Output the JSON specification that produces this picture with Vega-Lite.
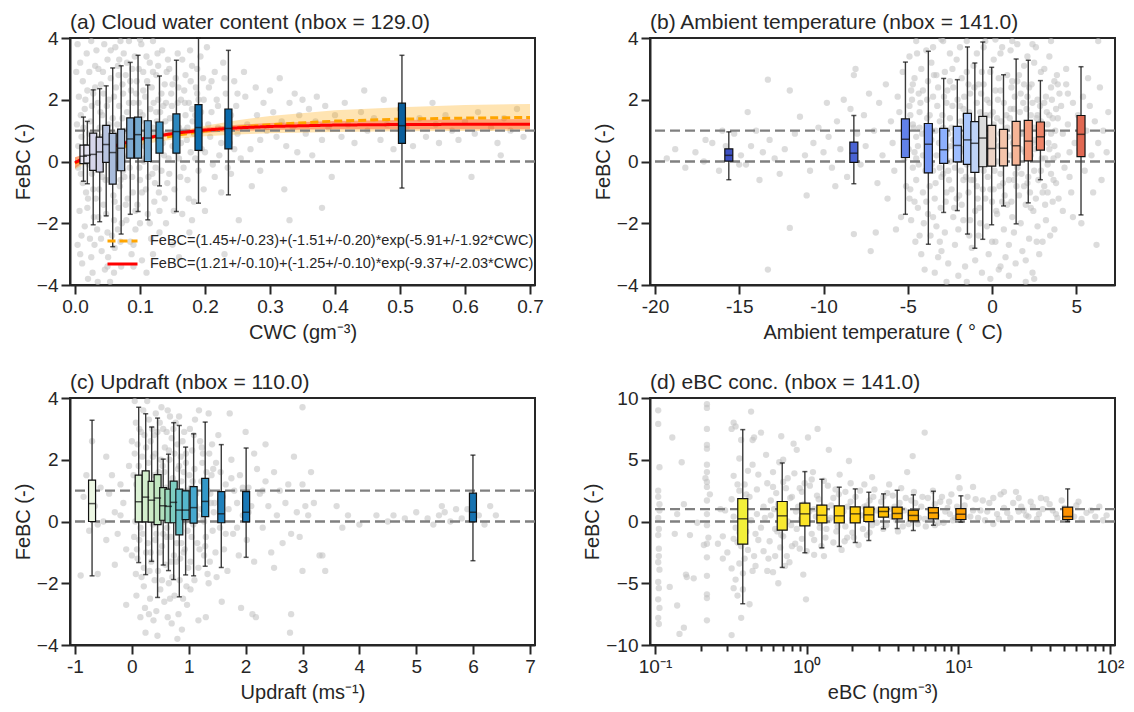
{
"$schema": "https://vega.github.io/schema/vega-lite/v6.json",
"padding": {"left": 12, "top": 10, "right": 5, "bottom": 5},
"bounds": "flush",
"columns": 2,
"spacing": {"row": 113, "column": 115},
"resolve": {"scale": {"fill": "independent", "color": "independent", "strokeDash": "independent"}},
"config": {
 "font": "Liberation Sans",
 "view": {"stroke": "#262626", "strokeWidth": 2},
 "axis": {"domain": true, "domainColor": "#262626", "domainWidth": 2, "grid": false, "tickSize": 9, "tickWidth": 2, "tickColor": "#262626", "labelFontSize": 19, "labelColor": "#262626", "labelPadding": 3, "titleFontSize": 20, "titleFontWeight": "normal", "titleColor": "#262626", "labelFlush": false, "labelOverlap": false, "zindex": 1},
 "axisX": {"titlePadding": 6},
 "axisY": {"titlePadding": 3},
 "title": {"fontSize": 21, "fontWeight": "normal", "anchor": "start", "frame": "group", "color": "#262626", "offset": -3.5}
},
"datasets": {
"ptsA": [
{"x":0.004,"y":3.8},{"x":0.008,"y":3.2},{"x":0.012,"y":2.6},{"x":0.006,"y":2.1},{"x":0.015,"y":1.7},{"x":0.003,"y":1.2},{"x":0.01,"y":0.8},{"x":0.018,"y":0.3},{"x":0.005,"y":-0.2},{"x":0.012,"y":-0.7},{"x":0.02,"y":-1.2},{"x":0.007,"y":-1.6},{"x":0.015,"y":-2.1},{"x":0.004,"y":-2.7},{"x":0.011,"y":-3.3},{"x":0.02,"y":-3.8},{"x":0.025,"y":3.9},{"x":0.022,"y":2.9},{"x":0.028,"y":2.2},{"x":0.024,"y":1.3},{"x":0.03,"y":0.6},{"x":0.026,"y":-0.4},{"x":0.029,"y":-1.8},{"x":0.023,"y":-2.5},{"x":0.027,"y":-3.6},
{"x":0.033,"y":3.6},{"x":0.036,"y":3.0},{"x":0.04,"y":2.5},{"x":0.035,"y":1.9},{"x":0.042,"y":1.5},{"x":0.038,"y":1.1},{"x":0.045,"y":0.4},{"x":0.04,"y":-0.3},{"x":0.037,"y":-0.9},{"x":0.044,"y":-1.4},{"x":0.034,"y":-2.2},{"x":0.041,"y":-2.9},{"x":0.046,"y":-3.5},{"x":0.05,"y":3.3},{"x":0.055,"y":2.7},{"x":0.052,"y":2.0},{"x":0.058,"y":1.4},{"x":0.05,"y":0.9},{"x":0.056,"y":0.1},{"x":0.053,"y":-0.6},{"x":0.059,"y":-1.1},{"x":0.048,"y":-1.7},{"x":0.057,"y":-2.4},{"x":0.051,"y":-3.1},{"x":0.054,"y":-3.9},
{"x":0.062,"y":3.7},{"x":0.066,"y":3.1},{"x":0.063,"y":2.4},{"x":0.068,"y":1.8},{"x":0.065,"y":1.2},{"x":0.07,"y":0.5},{"x":0.064,"y":-0.1},{"x":0.069,"y":-0.8},{"x":0.067,"y":-1.5},{"x":0.072,"y":-2.0},{"x":0.061,"y":-2.8},{"x":0.071,"y":-3.4},{"x":0.075,"y":3.5},{"x":0.078,"y":2.8},{"x":0.074,"y":2.2},{"x":0.08,"y":1.6},{"x":0.077,"y":1.0},{"x":0.082,"y":0.2},{"x":0.076,"y":-0.5},{"x":0.081,"y":-1.2},{"x":0.079,"y":-1.9},{"x":0.085,"y":-2.6},{"x":0.083,"y":3.9},{"x":0.088,"y":3.0},{"x":0.086,"y":2.3},{"x":0.09,"y":1.3},{"x":0.087,"y":0.7},{"x":0.084,"y":-0.2},{"x":0.089,"y":-1.0},{"x":0.087,"y":-3.0},
{"x":0.092,"y":3.4},{"x":0.095,"y":2.6},{"x":0.098,"y":1.9},{"x":0.094,"y":1.0},{"x":0.097,"y":0.3},{"x":0.1,"y":-0.6},{"x":0.096,"y":-1.4},{"x":0.093,"y":-2.2},{"x":0.102,"y":3.8},{"x":0.105,"y":2.9},{"x":0.108,"y":2.1},{"x":0.104,"y":1.5},{"x":0.11,"y":0.8},{"x":0.106,"y":0.0},{"x":0.109,"y":-0.9},{"x":0.112,"y":-1.7},{"x":0.103,"y":-3.2},{"x":0.115,"y":3.2},{"x":0.118,"y":2.4},{"x":0.116,"y":1.7},{"x":0.12,"y":1.1},{"x":0.114,"y":0.4},{"x":0.119,"y":-0.4},{"x":0.122,"y":-1.3},{"x":0.117,"y":-2.5},{"x":0.125,"y":2.8},{"x":0.128,"y":2.0},{"x":0.126,"y":1.3},{"x":0.13,"y":0.6},{"x":0.124,"y":-0.2},{"x":0.129,"y":-1.0},
{"x":0.134,"y":3.6},{"x":0.138,"y":2.5},{"x":0.136,"y":1.8},{"x":0.14,"y":0.9},{"x":0.137,"y":0.2},{"x":0.142,"y":-0.7},{"x":0.145,"y":3.0},{"x":0.148,"y":2.2},{"x":0.146,"y":1.4},{"x":0.15,"y":0.5},{"x":0.152,"y":-1.6},{"x":0.155,"y":2.7},{"x":0.158,"y":1.9},{"x":0.16,"y":1.1},{"x":0.157,"y":0.3},{"x":0.162,"y":-0.5},{"x":0.165,"y":3.3},{"x":0.168,"y":2.3},{"x":0.17,"y":1.5},{"x":0.172,"y":0.7},{"x":0.167,"y":-0.2},{"x":0.175,"y":-1.2},{"x":0.178,"y":2.6},{"x":0.18,"y":1.7},{"x":0.183,"y":0.9},{"x":0.185,"y":0.1},{"x":0.188,"y":3.0},{"x":0.19,"y":2.0},{"x":0.192,"y":1.2},{"x":0.195,"y":0.4},{"x":0.198,"y":-0.9},{"x":0.176,"y":-2.3},{"x":0.16,"y":-3.1},
{"x":0.203,"y":3.7},{"x":0.206,"y":2.4},{"x":0.21,"y":1.6},{"x":0.208,"y":0.8},{"x":0.212,"y":-0.1},{"x":0.215,"y":2.9},{"x":0.218,"y":2.0},{"x":0.22,"y":1.1},{"x":0.222,"y":0.2},{"x":0.225,"y":-1.0},{"x":0.228,"y":3.2},{"x":0.232,"y":2.2},{"x":0.235,"y":1.4},{"x":0.238,"y":0.6},{"x":0.24,"y":-0.4},{"x":0.245,"y":2.6},{"x":0.248,"y":1.8},{"x":0.25,"y":0.9},{"x":0.255,"y":0.1},{"x":0.26,"y":2.9},{"x":0.262,"y":2.1},{"x":0.265,"y":1.2},{"x":0.27,"y":0.4},{"x":0.272,"y":-0.8},{"x":0.278,"y":2.4},{"x":0.28,"y":1.5},{"x":0.285,"y":0.7},{"x":0.29,"y":1.9},{"x":0.295,"y":1.0},{"x":0.3,"y":2.3},{"x":0.252,"y":-1.9},{"x":0.23,"y":-3.0},{"x":0.285,"y":-0.3},
{"x":0.305,"y":1.6},{"x":0.31,"y":0.8},{"x":0.315,"y":2.7},{"x":0.318,"y":1.3},{"x":0.322,"y":-0.9},{"x":0.325,"y":0.5},{"x":0.33,"y":1.9},{"x":0.335,"y":1.1},{"x":0.338,"y":2.2},{"x":0.342,"y":0.3},{"x":0.345,"y":1.5},{"x":0.35,"y":2.0},{"x":0.355,"y":0.9},{"x":0.36,"y":1.7},{"x":0.365,"y":0.2},{"x":0.37,"y":1.3},{"x":0.372,"y":2.1},{"x":0.38,"y":0.7},{"x":0.385,"y":1.8},{"x":0.39,"y":1.1},{"x":0.395,"y":-0.5},{"x":0.4,"y":1.5},{"x":0.41,"y":0.8},{"x":0.415,"y":1.9},{"x":0.42,"y":1.2},{"x":0.43,"y":0.6},{"x":0.44,"y":1.6},{"x":0.445,"y":2.3},{"x":0.38,"y":-1.5},{"x":0.33,"y":-1.9},
{"x":0.45,"y":1.0},{"x":0.46,"y":1.4},{"x":0.47,"y":0.7},{"x":0.475,"y":2.0},{"x":0.48,"y":1.2},{"x":0.49,"y":0.4},{"x":0.5,"y":1.7},{"x":0.51,"y":1.1},{"x":0.52,"y":0.5},{"x":0.53,"y":1.4},{"x":0.54,"y":0.8},{"x":0.55,"y":1.9},{"x":0.555,"y":1.2},{"x":0.56,"y":0.6},{"x":0.57,"y":1.5},{"x":0.58,"y":1.0},{"x":0.59,"y":0.7},{"x":0.6,"y":1.3},{"x":0.61,"y":-0.5},{"x":0.615,"y":0.9},{"x":0.62,"y":1.6},{"x":0.64,"y":1.1},{"x":0.65,"y":0.6},{"x":0.66,"y":1.4},{"x":0.67,"y":1.0},{"x":0.68,"y":1.7},{"x":0.69,"y":0.8},{"x":0.655,"y":0.2},
{"x":0.002,"y":2.9},{"x":0.009,"y":1.5},{"x":0.014,"y":0.1},{"x":0.017,"y":-1.0},{"x":0.019,"y":2.3},{"x":0.021,"y":-0.1},{"x":0.031,"y":3.1},{"x":0.032,"y":-1.2},{"x":0.039,"y":0.8},{"x":0.043,"y":2.9},{"x":0.047,"y":-0.6},{"x":0.049,"y":1.8},{"x":0.06,"y":0.6},{"x":0.061,"y":-1.3},{"x":0.067,"y":2.8},{"x":0.073,"y":1.4},{"x":0.074,"y":-0.3},{"x":0.079,"y":0.6},{"x":0.083,"y":1.9},{"x":0.091,"y":0.6},{"x":0.094,"y":2.2},{"x":0.099,"y":-0.2},{"x":0.101,"y":1.3},{"x":0.107,"y":0.5},{"x":0.111,"y":2.6},{"x":0.113,"y":-0.5},{"x":0.121,"y":1.9},{"x":0.123,"y":0.9},{"x":0.127,"y":3.5},{"x":0.131,"y":1.6},{"x":0.133,"y":-0.3},{"x":0.139,"y":1.3},{"x":0.141,"y":2.9},{"x":0.144,"y":0.1},{"x":0.149,"y":1.8},{"x":0.153,"y":1.0},{"x":0.159,"y":2.4},{"x":0.163,"y":0.6},{"x":0.169,"y":1.9},{"x":0.173,"y":1.1},{"x":0.177,"y":3.6},{"x":0.181,"y":1.3},{"x":0.186,"y":2.4},{"x":0.189,"y":0.6},{"x":0.194,"y":1.6},{"x":0.197,"y":2.7},{"x":0.008,"y":-3.0},{"x":0.025,"y":-3.1},{"x":0.035,"y":-3.9},{"x":0.06,"y":-3.6},{"x":0.09,"y":-2.7},{"x":0.11,"y":-3.6},{"x":0.14,"y":-2.0},{"x":0.2,"y":-1.6},{"x":0.018,"y":3.5},{"x":0.045,"y":3.8},{"x":0.07,"y":3.9},{"x":0.1,"y":3.95},{"x":0.12,"y":3.9},
{"x":0.005,"y":0.5},{"x":0.009,"y":-0.4},{"x":0.013,"y":1.1},{"x":0.016,"y":2.0},{"x":0.019,"y":-1.5},{"x":0.022,"y":0.9},{"x":0.026,"y":1.8},{"x":0.028,"y":-0.9},{"x":0.031,"y":2.4},{"x":0.033,"y":0.2},{"x":0.036,"y":-1.8},{"x":0.039,"y":1.6},{"x":0.042,"y":-0.5},{"x":0.044,"y":2.2},{"x":0.047,"y":0.6},{"x":0.05,"y":-2.3},{"x":0.052,"y":1.2},{"x":0.055,"y":3.6},{"x":0.058,"y":-0.2},{"x":0.06,"y":2.1},{"x":0.063,"y":0.9},{"x":0.066,"y":-2.2},{"x":0.068,"y":3.3},{"x":0.07,"y":-0.6},{"x":0.073,"y":2.5},{"x":0.075,"y":0.1},{"x":0.078,"y":-1.4},{"x":0.08,"y":3.2},{"x":0.083,"y":0.8},{"x":0.085,"y":2.6},{"x":0.088,"y":-0.5},{"x":0.09,"y":1.9},{"x":0.093,"y":-1.6},{"x":0.095,"y":0.7},{"x":0.098,"y":3.0},{"x":0.1,"y":1.6},{"x":0.103,"y":-1.0},{"x":0.105,"y":2.3},{"x":0.108,"y":0.1},{"x":0.11,"y":3.4},{"x":0.113,"y":1.0},{"x":0.115,"y":-2.0},{"x":0.118,"y":0.9},{"x":0.12,"y":2.9},{"x":0.123,"y":-0.7},{"x":0.125,"y":1.6},{"x":0.128,"y":3.1},{"x":0.13,"y":-1.6},{"x":0.133,"y":2.2},{"x":0.135,"y":0.6},{"x":0.138,"y":-1.2},{"x":0.14,"y":1.9},{"x":0.143,"y":3.3},{"x":0.145,"y":-0.4},{"x":0.148,"y":0.9},{"x":0.15,"y":2.5},{"x":0.153,"y":-0.9},{"x":0.155,"y":1.4},{"x":0.158,"y":3.5},{"x":0.16,"y":0.1},{"x":0.163,"y":2.0},{"x":0.165,"y":-1.7},{"x":0.168,"y":1.0},{"x":0.17,"y":2.8},{"x":0.173,"y":-0.6},{"x":0.175,"y":1.9},{"x":0.178,"y":0.3},{"x":0.18,"y":3.1},{"x":0.183,"y":-1.3},{"x":0.185,"y":1.5},{"x":0.188,"y":2.2},{"x":0.19,"y":-0.3},{"x":0.193,"y":3.4},{"x":0.195,"y":1.0},{"x":0.198,"y":2.0},{"x":0.2,"y":0.3},{"x":0.205,"y":1.2},{"x":0.21,"y":2.6},{"x":0.215,"y":-0.5},{"x":0.22,"y":1.8},{"x":0.225,"y":0.6},{"x":0.23,"y":2.7},{"x":0.235,"y":-0.2},{"x":0.24,"y":1.5},{"x":0.245,"y":0.4},{"x":0.25,"y":2.2},{"x":0.01,"y":-2.4},{"x":0.03,"y":-2.7},{"x":0.05,"y":-3.4},{"x":0.07,"y":-2.6},{"x":0.09,"y":-3.4},{"x":0.12,"y":-3.0},{"x":0.15,"y":-2.7},{"x":0.18,"y":-1.9},{"x":0.06,"y":-1.9},{"x":0.04,"y":-2.5},{"x":0.1,"y":-2.0},{"x":0.13,"y":-2.3}
],
"ptsB": [
{"x":-19.3,"y":0.1},{"x":-18.8,"y":0.4},{"x":-18.2,"y":-0.2},{"x":-17.6,"y":0.3},{"x":-17.1,"y":0.0},{"x":-16.6,"y":0.6},{"x":-16.2,"y":-0.3},{"x":-15.8,"y":0.5},{"x":-15.3,"y":0.9},{"x":-14.9,"y":0.2},{"x":-14.6,"y":-0.1},{"x":-14.3,"y":0.5},{"x":-14.0,"y":1.0},{"x":-13.6,"y":0.3},{"x":-13.3,"y":2.65},{"x":-13.2,"y":0.7},{"x":-12.9,"y":0.1},{"x":-12.6,"y":-0.4},{"x":-12.3,"y":0.4},{"x":-12.0,"y":2.3},{"x":-12.0,"y":-2.15},{"x":-11.7,"y":0.9},{"x":-11.4,"y":1.45},{"x":-11.1,"y":0.2},{"x":-10.8,"y":-0.3},{"x":-10.6,"y":0.6},{"x":-10.3,"y":1.1},{"x":-10.0,"y":0.3},{"x":-13.3,"y":-3.5},{"x":-14.5,"y":1.6},{"x":-13.8,"y":-0.6},{"x":-11.0,"y":-1.1},{"x":-15.0,"y":-0.1},{"x":-16.0,"y":1.0},{"x":-17.0,"y":0.7},
{"x":-9.7,"y":0.8},{"x":-9.5,"y":-0.2},{"x":-9.2,"y":1.3},{"x":-9.0,"y":0.4},{"x":-8.8,"y":2.0},{"x":-8.6,"y":-0.5},{"x":-8.4,"y":1.7},{"x":-8.2,"y":2.8},{"x":-8.1,"y":3.0},{"x":-8.0,"y":0.9},{"x":-7.8,"y":-0.1},{"x":-7.6,"y":1.5},{"x":-7.5,"y":0.5},{"x":-7.3,"y":2.2},{"x":-7.2,"y":-2.9},{"x":-7.0,"y":1.0},{"x":-6.8,"y":-0.7},{"x":-6.7,"y":1.9},{"x":-6.5,"y":0.2},{"x":-6.3,"y":2.5},{"x":-6.2,"y":-1.2},{"x":-6.0,"y":1.3},{"x":-5.9,"y":0.6},{"x":-5.8,"y":-0.3},{"x":-5.6,"y":2.1},{"x":-5.5,"y":1.6},{"x":-5.4,"y":-1.8},{"x":-5.3,"y":2.9},{"x":-5.2,"y":0.1},{"x":-5.1,"y":-0.8},{"x":-8.2,"y":-2.35},{"x":-9.8,"y":1.9},{"x":-6.9,"y":-2.3},{"x":-5.7,"y":-2.2},{"x":-9.3,"y":-0.8},
{"x":-4.9,"y":3.4},{"x":-4.8,"y":2.3},{"x":-4.7,"y":1.2},{"x":-4.6,"y":0.3},{"x":-4.5,"y":-0.6},{"x":-4.4,"y":-1.5},{"x":-4.3,"y":-2.4},{"x":-4.2,"y":3.0},{"x":-4.9,"y":1.8},{"x":-4.7,"y":-0.2},{"x":-4.5,"y":0.8},{"x":-4.3,"y":1.6},{"x":-4.1,"y":-1.0},{"x":-4.8,"y":-1.9},{"x":-4.6,"y":2.7},{"x":-4.2,"y":-3.0},{"x":-4.4,"y":0.5},
{"x":-3.9,"y":3.6},{"x":-3.8,"y":2.6},{"x":-3.7,"y":1.5},{"x":-3.6,"y":0.7},{"x":-3.5,"y":-0.3},{"x":-3.4,"y":-1.2},{"x":-3.3,"y":-2.1},{"x":-3.2,"y":-3.1},{"x":-3.9,"y":1.0},{"x":-3.7,"y":-0.8},{"x":-3.5,"y":2.1},{"x":-3.3,"y":0.2},{"x":-3.1,"y":1.3},{"x":-3.8,"y":-1.7},{"x":-3.6,"y":3.2},{"x":-3.4,"y":-3.6},{"x":-3.2,"y":2.4},{"x":-3.0,"y":-0.5},
{"x":-2.9,"y":3.9},{"x":-2.8,"y":2.9},{"x":-2.7,"y":1.9},{"x":-2.6,"y":0.9},{"x":-2.5,"y":0.0},{"x":-2.4,"y":-0.9},{"x":-2.3,"y":-1.8},{"x":-2.2,"y":-2.7},{"x":-2.9,"y":-0.4},{"x":-2.7,"y":0.4},{"x":-2.5,"y":1.4},{"x":-2.3,"y":2.4},{"x":-2.1,"y":3.3},{"x":-2.8,"y":-2.3},{"x":-2.6,"y":-3.3},{"x":-2.4,"y":1.1},{"x":-2.2,"y":-0.2},{"x":-2.0,"y":-3.7},
{"x":-1.9,"y":3.7},{"x":-1.8,"y":2.7},{"x":-1.7,"y":1.7},{"x":-1.6,"y":0.8},{"x":-1.5,"y":-0.1},{"x":-1.4,"y":-1.0},{"x":-1.3,"y":-1.9},{"x":-1.2,"y":-2.8},{"x":-1.9,"y":0.3},{"x":-1.7,"y":-0.6},{"x":-1.5,"y":1.2},{"x":-1.3,"y":2.2},{"x":-1.1,"y":3.1},{"x":-1.8,"y":-1.4},{"x":-1.6,"y":-3.4},{"x":-1.4,"y":2.5},{"x":-1.2,"y":0.5},{"x":-1.0,"y":-1.6},
{"x":-0.9,"y":3.5},{"x":-0.8,"y":2.5},{"x":-0.7,"y":1.6},{"x":-0.6,"y":0.6},{"x":-0.5,"y":-0.3},{"x":-0.4,"y":-1.2},{"x":-0.3,"y":-2.1},{"x":-0.2,"y":-3.0},{"x":-0.9,"y":-0.8},{"x":-0.7,"y":0.1},{"x":-0.5,"y":1.1},{"x":-0.3,"y":2.0},{"x":-0.1,"y":2.9},{"x":-0.8,"y":-2.4},{"x":-0.6,"y":-3.6},{"x":-0.4,"y":3.9},{"x":-0.2,"y":0.8},{"x":0.0,"y":-1.3},
{"x":0.1,"y":3.3},{"x":0.2,"y":2.3},{"x":0.3,"y":1.4},{"x":0.4,"y":0.5},{"x":0.5,"y":-0.4},{"x":0.6,"y":-1.3},{"x":0.7,"y":-2.2},{"x":0.8,"y":-3.1},{"x":0.1,"y":-0.9},{"x":0.3,"y":0.0},{"x":0.5,"y":0.9},{"x":0.7,"y":1.9},{"x":0.9,"y":2.8},{"x":0.2,"y":-2.6},{"x":0.4,"y":-3.5},{"x":0.6,"y":3.7},{"x":0.8,"y":0.3},{"x":1.0,"y":-0.6},
{"x":1.1,"y":3.6},{"x":1.2,"y":2.6},{"x":1.3,"y":1.7},{"x":1.4,"y":0.7},{"x":1.5,"y":-0.2},{"x":1.6,"y":-1.1},{"x":1.7,"y":-2.0},{"x":1.8,"y":-2.9},{"x":1.1,"y":0.2},{"x":1.3,"y":-0.6},{"x":1.5,"y":1.2},{"x":1.7,"y":2.2},{"x":1.9,"y":3.1},{"x":1.2,"y":-1.8},{"x":1.4,"y":-3.3},{"x":1.6,"y":2.8},{"x":1.8,"y":0.9},{"x":2.0,"y":-1.4},
{"x":2.1,"y":3.4},{"x":2.2,"y":2.4},{"x":2.3,"y":1.5},{"x":2.4,"y":0.6},{"x":2.5,"y":-0.3},{"x":2.6,"y":-1.2},{"x":2.7,"y":-2.1},{"x":2.8,"y":-3.0},{"x":2.1,"y":-0.7},{"x":2.3,"y":0.2},{"x":2.5,"y":1.1},{"x":2.7,"y":2.0},{"x":2.9,"y":2.9},{"x":2.2,"y":-2.5},{"x":2.4,"y":-3.6},{"x":2.6,"y":3.7},{"x":2.8,"y":0.7},{"x":3.0,"y":-1.0},
{"x":3.1,"y":3.0},{"x":3.2,"y":2.1},{"x":3.3,"y":1.2},{"x":3.4,"y":0.4},{"x":3.5,"y":-0.4},{"x":3.6,"y":-1.3},{"x":3.7,"y":-2.2},{"x":3.8,"y":1.7},{"x":3.1,"y":-0.8},{"x":3.3,"y":-0.1},{"x":3.5,"y":0.9},{"x":3.7,"y":2.6},{"x":3.9,"y":0.2},{"x":3.2,"y":-1.9},{"x":3.4,"y":3.4},{"x":3.6,"y":1.4},{"x":3.8,"y":-0.7},{"x":4.0,"y":2.2},
{"x":4.1,"y":1.8},{"x":4.2,"y":0.9},{"x":4.3,"y":-0.2},{"x":4.4,"y":2.5},{"x":4.5,"y":1.2},{"x":4.6,"y":0.3},{"x":4.7,"y":-1.0},{"x":4.8,"y":1.9},{"x":4.9,"y":0.6},{"x":4.2,"y":-1.6},{"x":4.4,"y":3.0},{"x":4.6,"y":-0.5},{"x":4.8,"y":-1.8},{"x":4.5,"y":2.2},
{"x":5.1,"y":1.5},{"x":5.2,"y":0.4},{"x":5.4,"y":2.1},{"x":5.5,"y":-0.3},{"x":5.6,"y":1.0},{"x":5.8,"y":1.8},{"x":5.9,"y":0.2},{"x":6.0,"y":-1.0},{"x":6.1,"y":1.3},{"x":6.3,"y":0.6},{"x":6.4,"y":2.4},{"x":6.6,"y":1.0},{"x":6.8,"y":0.3},{"x":6.9,"y":1.6},{"x":5.3,"y":-2.0},{"x":6.2,"y":-2.7},{"x":5.7,"y":2.7},{"x":6.5,"y":-0.6},{"x":6.3,"y":3.9},
{"x":-4.95,"y":0.4},{"x":-4.85,"y":-0.9},{"x":-4.75,"y":2.0},{"x":-4.65,"y":1.1},{"x":-4.55,"y":-2.6},{"x":-4.45,"y":3.5},{"x":-4.35,"y":-0.1},{"x":-4.25,"y":1.9},{"x":-4.15,"y":0.9},{"x":-4.05,"y":-2.0},
{"x":-3.95,"y":-0.3},{"x":-3.85,"y":1.4},{"x":-3.75,"y":0.3},{"x":-3.65,"y":-2.4},{"x":-3.55,"y":1.0},{"x":-3.45,"y":2.8},{"x":-3.35,"y":-0.7},{"x":-3.25,"y":1.8},{"x":-3.15,"y":0.6},{"x":-3.05,"y":-1.5},
{"x":-2.95,"y":1.5},{"x":-2.85,"y":0.6},{"x":-2.75,"y":-1.3},{"x":-2.65,"y":2.3},{"x":-2.55,"y":-0.6},{"x":-2.45,"y":0.5},{"x":-2.35,"y":1.8},{"x":-2.25,"y":-1.5},{"x":-2.15,"y":0.9},{"x":-2.05,"y":2.0},
{"x":-1.95,"y":-1.1},{"x":-1.85,"y":1.3},{"x":-1.75,"y":0.4},{"x":-1.65,"y":2.1},{"x":-1.55,"y":-0.5},{"x":-1.45,"y":0.3},{"x":-1.35,"y":1.6},{"x":-1.25,"y":-0.6},{"x":-1.15,"y":1.0},{"x":-1.05,"y":2.4},
{"x":-0.95,"y":1.2},{"x":-0.85,"y":0.3},{"x":-0.75,"y":-1.5},{"x":-0.65,"y":2.2},{"x":-0.55,"y":-0.9},{"x":-0.45,"y":0.4},{"x":-0.35,"y":1.5},{"x":-0.25,"y":-0.5},{"x":-0.15,"y":1.9},{"x":-0.05,"y":0.4},
{"x":0.05,"y":1.6},{"x":0.15,"y":0.7},{"x":0.25,"y":-1.6},{"x":0.35,"y":2.0},{"x":0.45,"y":-0.8},{"x":0.55,"y":1.3},{"x":0.65,"y":0.2},{"x":0.75,"y":-1.1},{"x":0.85,"y":1.5},{"x":0.95,"y":0.8},
{"x":1.05,"y":1.4},{"x":1.15,"y":-1.3},{"x":1.25,"y":0.6},{"x":1.35,"y":2.1},{"x":1.45,"y":-0.8},{"x":1.55,"y":0.4},{"x":1.65,"y":1.6},{"x":1.75,"y":-0.4},{"x":1.85,"y":1.9},{"x":1.95,"y":0.3},
{"x":2.05,"y":1.7},{"x":2.15,"y":0.8},{"x":2.25,"y":-1.0},{"x":2.35,"y":2.5},{"x":2.45,"y":-1.6},{"x":2.55,"y":0.4},{"x":2.65,"y":1.4},{"x":2.75,"y":-0.6},{"x":2.85,"y":1.8},{"x":2.95,"y":0.1},
{"x":3.05,"y":0.9},{"x":3.15,"y":-1.4},{"x":3.25,"y":1.6},{"x":3.35,"y":0.6},{"x":3.45,"y":-2.4},{"x":3.55,"y":2.0},{"x":3.65,"y":0.1},{"x":3.75,"y":1.0},{"x":3.85,"y":2.8},{"x":3.95,"y":-1.2},
{"x":-3.0,"y":3.95},{"x":-1.5,"y":3.9},{"x":0.2,"y":3.95},{"x":1.2,"y":3.9},{"x":2.4,"y":3.8},{"x":-2.7,"y":-3.9},{"x":-0.1,"y":-3.8},{"x":1.0,"y":-3.7},{"x":2.0,"y":-3.9},
{"x":-4.9,"y":-1.2},{"x":-4.7,"y":2.5},{"x":-4.5,"y":0.1},{"x":-4.3,"y":1.1},{"x":-4.1,"y":2.3},{"x":-3.9,"y":-1.3},{"x":-3.7,"y":0.9},{"x":-3.5,"y":-1.8},{"x":-3.3,"y":2.8},{"x":-3.1,"y":-0.2},{"x":-2.9,"y":1.1},{"x":-2.7,"y":-1.0},{"x":-2.5,"y":2.6},{"x":-2.3,"y":0.7},{"x":-2.1,"y":-1.2},{"x":-1.9,"y":1.8},{"x":-1.7,"y":-1.9},{"x":-1.5,"y":2.9},{"x":-1.3,"y":0.6},{"x":-1.1,"y":-0.6},{"x":-0.9,"y":1.9},{"x":-0.7,"y":-2.0},{"x":-0.5,"y":2.5},{"x":-0.3,"y":0.4},{"x":-0.1,"y":-0.9},{"x":0.1,"y":1.2},{"x":0.3,"y":-1.7},{"x":0.5,"y":2.3},{"x":0.7,"y":0.5},{"x":0.9,"y":-1.4},{"x":1.1,"y":1.7},{"x":1.3,"y":-2.3},{"x":1.5,"y":2.6},{"x":1.7,"y":0.4},{"x":1.9,"y":-0.8},{"x":2.1,"y":2.1},{"x":2.3,"y":-1.5},{"x":2.5,"y":0.7},{"x":2.7,"y":1.5},{"x":2.9,"y":-0.3},{"x":3.1,"y":1.9},{"x":3.3,"y":-1.0},{"x":3.5,"y":2.4},{"x":3.7,"y":0.5},{"x":3.9,"y":1.4},
{"x":-4.85,"y":1.5},{"x":-4.6,"y":-1.3},{"x":-4.35,"y":2.2},{"x":-4.1,"y":0.2},{"x":-3.85,"y":2.0},{"x":-3.6,"y":-0.1},{"x":-3.35,"y":1.0},{"x":-3.1,"y":-2.6},{"x":-2.85,"y":2.1},{"x":-2.6,"y":-0.3},{"x":-2.35,"y":3.0},{"x":-2.1,"y":0.3},{"x":-1.85,"y":-0.3},{"x":-1.6,"y":1.5},{"x":-1.35,"y":-2.4},{"x":-1.1,"y":0.8},{"x":-0.85,"y":-1.2},{"x":-0.6,"y":2.9},{"x":-0.35,"y":0.0},{"x":-0.1,"y":1.5},{"x":0.15,"y":-0.3},{"x":0.4,"y":2.7},{"x":0.65,"y":-0.7},{"x":0.9,"y":1.1},{"x":1.15,"y":2.4},{"x":1.4,"y":-0.4},{"x":1.65,"y":0.9},{"x":1.9,"y":2.5},{"x":2.15,"y":-0.5},{"x":2.4,"y":1.9},{"x":2.65,"y":-2.6},{"x":2.9,"y":1.3},{"x":3.15,"y":0.1},{"x":3.4,"y":1.5},{"x":3.65,"y":-0.6},{"x":3.9,"y":2.5},
{"x":-4.0,"y":-3.5},{"x":-3.0,"y":-2.9},{"x":-2.0,"y":-2.2},{"x":-1.0,"y":-3.2},{"x":0.0,"y":-2.6},{"x":1.0,"y":-2.7},{"x":2.0,"y":-3.2},{"x":3.0,"y":-2.6},{"x":-1.5,"y":-3.9},{"x":0.5,"y":-3.4},{"x":2.5,"y":-3.8},{"x":-4.5,"y":3.9},{"x":-3.5,"y":3.7},{"x":-2.5,"y":3.5},{"x":-0.5,"y":3.7},{"x":0.5,"y":3.5},{"x":1.5,"y":3.8},{"x":2.5,"y":3.2},{"x":3.5,"y":3.9}
],
"ptsC": [
{"x":-0.9,"y":-1.75},{"x":-0.85,"y":0.8},{"x":-0.8,"y":1.5},{"x":-0.75,"y":-0.3},{"x":-0.7,"y":2.6},{"x":-0.65,"y":0.5},{"x":-0.6,"y":-0.1},{"x":-0.55,"y":1.1},{"x":-0.5,"y":0.0},{"x":-0.45,"y":-0.6},{"x":-0.4,"y":0.9},{"x":-0.35,"y":1.5},{"x":-0.3,"y":0.3},{"x":-0.25,"y":-0.4},{"x":-0.2,"y":1.2},{"x":-0.15,"y":0.6},{"x":-0.1,"y":-0.9},{"x":-0.05,"y":1.8},{"x":-0.1,"y":-2.7},{"x":-0.3,"y":-1.4},{"x":-0.6,"y":-1.7},{"x":-0.45,"y":2.1},{"x":-0.2,"y":0.2},{"x":0.0,"y":2.6},{"x":0.0,"y":-1.1},
{"x":0.05,"y":3.9},{"x":0.07,"y":3.2},{"x":0.1,"y":2.5},{"x":0.12,"y":1.8},{"x":0.08,"y":1.2},{"x":0.15,"y":0.6},{"x":0.06,"y":0.0},{"x":0.13,"y":-0.6},{"x":0.1,"y":-1.2},{"x":0.17,"y":-1.8},{"x":0.08,"y":-2.4},{"x":0.15,"y":-3.1},{"x":0.2,"y":3.6},{"x":0.22,"y":2.8},{"x":0.18,"y":2.1},{"x":0.24,"y":1.4},{"x":0.2,"y":0.8},{"x":0.23,"y":0.2},{"x":0.19,"y":-0.4},{"x":0.25,"y":-1.0},{"x":0.21,"y":-1.5},{"x":0.24,"y":-3.6},{"x":0.03,"y":1.5},{"x":0.04,"y":-0.5},{"x":0.16,"y":2.9},{"x":0.11,"y":0.3},
{"x":0.27,"y":3.9},{"x":0.3,"y":3.3},{"x":0.33,"y":2.6},{"x":0.29,"y":1.9},{"x":0.35,"y":1.2},{"x":0.31,"y":0.5},{"x":0.37,"y":-0.1},{"x":0.28,"y":-0.7},{"x":0.34,"y":-1.3},{"x":0.4,"y":-1.9},{"x":0.32,"y":-2.5},{"x":0.38,"y":-3.2},{"x":0.42,"y":3.5},{"x":0.45,"y":2.9},{"x":0.41,"y":2.2},{"x":0.47,"y":1.6},{"x":0.44,"y":0.9},{"x":0.48,"y":0.2},{"x":0.43,"y":-0.4},{"x":0.49,"y":-1.0},{"x":0.46,"y":-1.6},{"x":0.5,"y":-2.2},{"x":0.36,"y":3.0},{"x":0.39,"y":1.5},{"x":0.26,"y":0.9},{"x":0.45,"y":-3.7},{"x":0.3,"y":-3.0},
{"x":0.52,"y":3.7},{"x":0.55,"y":3.0},{"x":0.58,"y":2.4},{"x":0.54,"y":1.8},{"x":0.6,"y":1.1},{"x":0.56,"y":0.4},{"x":0.62,"y":-0.2},{"x":0.53,"y":-0.8},{"x":0.59,"y":-1.4},{"x":0.65,"y":-2.0},{"x":0.57,"y":-2.6},{"x":0.63,"y":-3.1},{"x":0.67,"y":3.4},{"x":0.7,"y":2.7},{"x":0.66,"y":2.0},{"x":0.72,"y":1.4},{"x":0.69,"y":0.8},{"x":0.73,"y":0.1},{"x":0.68,"y":-0.5},{"x":0.74,"y":-1.1},{"x":0.71,"y":-1.8},{"x":0.64,"y":0.6},{"x":0.61,"y":2.9},{"x":0.75,"y":-2.4},{"x":0.7,"y":-3.3},
{"x":0.77,"y":3.2},{"x":0.8,"y":2.5},{"x":0.83,"y":1.8},{"x":0.79,"y":1.2},{"x":0.85,"y":0.5},{"x":0.81,"y":-0.1},{"x":0.87,"y":-0.7},{"x":0.78,"y":-1.3},{"x":0.84,"y":-1.9},{"x":0.9,"y":-2.5},{"x":0.82,"y":-3.0},{"x":0.88,"y":-3.5},{"x":0.92,"y":2.9},{"x":0.95,"y":2.2},{"x":0.91,"y":1.6},{"x":0.97,"y":1.0},{"x":0.94,"y":0.3},{"x":0.98,"y":-0.3},{"x":0.93,"y":-0.9},{"x":0.99,"y":-1.5},{"x":0.96,"y":-2.1},{"x":0.86,"y":2.1},{"x":0.89,"y":0.9},{"x":0.8,"y":-3.8},
{"x":1.02,"y":3.0},{"x":1.06,"y":2.3},{"x":1.1,"y":1.7},{"x":1.04,"y":1.1},{"x":1.12,"y":0.5},{"x":1.08,"y":-0.1},{"x":1.15,"y":-0.7},{"x":1.03,"y":-1.3},{"x":1.1,"y":-1.9},{"x":1.17,"y":-3.2},{"x":1.2,"y":2.6},{"x":1.24,"y":1.9},{"x":1.22,"y":1.3},{"x":1.28,"y":0.7},{"x":1.25,"y":0.1},{"x":1.3,"y":-0.5},{"x":1.27,"y":-1.1},{"x":1.33,"y":-1.7},{"x":1.36,"y":2.2},{"x":1.4,"y":1.5},{"x":1.38,"y":0.9},{"x":1.44,"y":0.3},{"x":1.42,"y":-0.3},{"x":1.47,"y":-1.0},{"x":1.35,"y":3.5},{"x":1.18,"y":3.6},{"x":1.48,"y":1.9},{"x":1.3,"y":-3.1},
{"x":1.52,"y":2.8},{"x":1.56,"y":1.6},{"x":1.6,"y":0.8},{"x":1.55,"y":-0.2},{"x":1.62,"y":-0.9},{"x":1.58,"y":-2.6},{"x":1.65,"y":1.2},{"x":1.7,"y":0.4},{"x":1.68,"y":-1.6},{"x":1.75,"y":2.0},{"x":1.8,"y":1.0},{"x":1.78,"y":-0.4},{"x":1.85,"y":0.6},{"x":1.9,"y":1.5},{"x":1.88,"y":-1.1},{"x":1.95,"y":0.2},{"x":2.0,"y":2.9},{"x":2.05,"y":1.1},{"x":2.02,"y":-0.6},{"x":2.1,"y":0.5},{"x":2.15,"y":-1.3},{"x":2.2,"y":1.7},{"x":1.92,"y":-2.8},{"x":2.18,"y":-3.1},{"x":1.72,"y":3.5},{"x":2.12,"y":-3.0},
{"x":2.25,"y":0.9},{"x":2.3,"y":-0.2},{"x":2.35,"y":1.3},{"x":2.4,"y":0.5},{"x":2.45,"y":-1.0},{"x":2.5,"y":1.6},{"x":2.55,"y":0.2},{"x":2.6,"y":1.0},{"x":2.65,"y":-0.7},{"x":2.7,"y":0.6},{"x":2.75,"y":1.2},{"x":2.8,"y":-0.4},{"x":2.85,"y":2.1},{"x":2.9,"y":0.3},{"x":2.95,"y":-0.5},{"x":3.0,"y":1.2},{"x":3.05,"y":0.5},{"x":2.35,"y":2.5},{"x":2.5,"y":-1.5},{"x":2.8,"y":-3.0},{"x":2.78,"y":-3.6},{"x":3.0,"y":3.7},{"x":3.0,"y":-1.6},{"x":3.1,"y":0.2},{"x":3.3,"y":-1.1},{"x":3.35,"y":-1.1},{"x":3.4,"y":-1.6},{"x":3.2,"y":0.6},{"x":3.15,"y":1.6},
{"x":3.6,"y":0.5},{"x":3.8,"y":0.2},{"x":4.0,"y":-0.1},{"x":4.3,"y":0.2},{"x":4.5,"y":0.0},{"x":4.8,"y":0.1},{"x":5.0,"y":0.3},{"x":5.2,"y":0.1},{"x":5.3,"y":-0.1},{"x":5.4,"y":0.2},{"x":5.5,"y":0.3},{"x":5.6,"y":0.0},{"x":5.7,"y":0.4},{"x":5.8,"y":0.1},{"x":5.9,"y":0.4},{"x":6.1,"y":0.2},{"x":6.2,"y":-0.1},{"x":6.3,"y":0.5},{"x":6.4,"y":0.2},{"x":3.7,"y":-0.2},{"x":4.6,"y":0.2},{"x":5.45,"y":0.5},
{"x":0.05,"y":2.2},{"x":0.09,"y":-0.9},{"x":0.13,"y":3.0},{"x":0.17,"y":0.4},{"x":0.21,"y":-2.1},{"x":0.25,"y":2.4},{"x":0.29,"y":0.2},{"x":0.33,"y":-1.0},{"x":0.37,"y":2.1},{"x":0.41,"y":-0.6},{"x":0.45,"y":1.3},{"x":0.49,"y":3.2},{"x":0.53,"y":-1.9},{"x":0.57,"y":1.6},{"x":0.61,"y":-0.5},{"x":0.65,"y":2.3},{"x":0.69,"y":-1.3},{"x":0.73,"y":3.0},{"x":0.77,"y":0.3},{"x":0.81,"y":1.7},{"x":0.85,"y":-1.2},{"x":0.89,"y":2.6},{"x":0.93,"y":0.0},{"x":0.97,"y":-2.7},{"x":1.01,"y":1.5},{"x":1.05,"y":-0.5},{"x":1.09,"y":2.8},{"x":1.13,"y":0.9},{"x":1.17,"y":-1.5},{"x":1.21,"y":0.4},{"x":1.25,"y":2.2},{"x":1.29,"y":-0.8},{"x":1.33,"y":1.0},{"x":1.37,"y":-1.3},{"x":1.41,"y":2.5},{"x":1.45,"y":0.6},{"x":0.07,"y":-1.7},{"x":0.11,"y":1.0},{"x":0.15,"y":-0.2},{"x":0.19,"y":1.5},{"x":0.23,"y":-2.8},{"x":0.27,"y":1.2},{"x":0.31,"y":-1.6},{"x":0.35,"y":0.3},{"x":0.39,"y":2.8},{"x":0.43,"y":-2.9},{"x":0.47,"y":0.5},{"x":0.51,"y":2.0},{"x":0.55,"y":-0.4},{"x":0.59,"y":0.9},{"x":0.63,"y":3.6},{"x":0.67,"y":-2.5},{"x":0.71,"y":1.0},{"x":0.75,"y":2.2},{"x":0.79,"y":-0.7},{"x":0.83,"y":3.4},{"x":0.87,"y":1.3},{"x":0.91,"y":-1.0},{"x":0.95,"y":1.9},{"x":0.99,"y":0.6},{"x":1.03,"y":-2.2},{"x":1.07,"y":1.3},{"x":1.11,"y":3.3},{"x":1.15,"y":0.2},{"x":1.19,"y":-0.9},{"x":1.23,"y":2.4},{"x":1.27,"y":0.0},{"x":1.31,"y":1.6},{"x":1.35,"y":-2.0},{"x":1.39,"y":0.6},{"x":1.43,"y":1.7},{"x":1.49,"y":-1.8},{"x":1.55,"y":0.7},{"x":1.65,"y":-0.4},{"x":1.75,"y":1.4},{"x":1.85,"y":-0.2},{"x":1.95,"y":1.1},{"x":2.05,"y":0.3},{"x":2.15,"y":2.2},{"x":2.3,"y":1.0}
],
"ptsD": [
{"x":0.105,"y":9.0},{"x":0.105,"y":7.9},{"x":0.107,"y":4.4},{"x":0.105,"y":2.5},{"x":0.107,"y":1.4},{"x":0.105,"y":0.3},{"x":0.106,"y":-0.6},{"x":0.105,"y":-1.1},{"x":0.106,"y":-2.2},{"x":0.105,"y":-3.3},{"x":0.107,"y":-3.9},{"x":0.105,"y":-4.9},{"x":0.106,"y":-5.4},{"x":0.105,"y":-6.3},{"x":0.107,"y":-7.0},{"x":0.105,"y":-7.8},{"x":0.106,"y":-8.3},{"x":0.105,"y":2.0},{"x":0.106,"y":-2.8},{"x":0.107,"y":0.9},
{"x":0.125,"y":-5.3},{"x":0.13,"y":6.8},{"x":0.14,"y":-6.8},{"x":0.145,"y":-9.1},{"x":0.15,"y":4.8},{"x":0.155,"y":-8.6},{"x":0.16,"y":-4.3},{"x":0.162,"y":-4.5},{"x":0.17,"y":-1.1},{"x":0.155,"y":1.4},{"x":0.135,"y":-1.0},{"x":0.18,"y":-4.6},{"x":0.19,"y":-0.1},{"x":0.14,"y":0.6},
{"x":0.22,"y":9.5},{"x":0.22,"y":9.2},{"x":0.22,"y":7.5},{"x":0.22,"y":6.2},{"x":0.22,"y":5.9},{"x":0.22,"y":4.6},{"x":0.22,"y":4.0},{"x":0.22,"y":3.2},{"x":0.22,"y":2.8},{"x":0.22,"y":1.7},{"x":0.22,"y":0.6},{"x":0.22,"y":-0.3},{"x":0.22,"y":-1.8},{"x":0.22,"y":-2.9},{"x":0.22,"y":-4.4},{"x":0.22,"y":-5.9},{"x":0.22,"y":-6.2},{"x":0.22,"y":-8.0},{"x":0.215,"y":3.5},{"x":0.225,"y":-1.3},{"x":0.21,"y":-1.9},{"x":0.23,"y":2.2},
{"x":0.26,"y":-1.8},{"x":0.27,"y":1.0},{"x":0.28,"y":-3.0},{"x":0.3,"y":-2.5},{"x":0.29,"y":0.9},{"x":0.28,"y":-1.2},
{"x":0.32,"y":7.5},{"x":0.33,"y":8.0},{"x":0.34,"y":7.7},{"x":0.33,"y":3.7},{"x":0.32,"y":1.8},{"x":0.34,"y":-0.5},{"x":0.33,"y":-1.4},{"x":0.32,"y":-3.8},{"x":0.34,"y":-4.7},{"x":0.33,"y":-5.4},{"x":0.32,"y":-9.2},{"x":0.35,"y":-6.0},{"x":0.36,"y":5.1},{"x":0.37,"y":6.6},{"x":0.36,"y":2.5},{"x":0.37,"y":-2.0},{"x":0.36,"y":-3.4},{"x":0.38,"y":-4.2},{"x":0.38,"y":1.0},{"x":0.39,"y":3.0},{"x":0.4,"y":-0.8},{"x":0.41,"y":4.1},{"x":0.42,"y":-6.7},{"x":0.43,"y":8.9},{"x":0.44,"y":6.6},{"x":0.45,"y":6.8},{"x":0.45,"y":-2.8},{"x":0.46,"y":-3.6},{"x":0.47,"y":2.6},{"x":0.48,"y":-1.5},{"x":0.47,"y":0.6},{"x":0.35,"y":-1.7},{"x":0.42,"y":2.0},{"x":0.44,"y":-4.0},{"x":0.33,"y":0.4},{"x":0.39,"y":-3.0},{"x":0.37,"y":-7.8},
{"x":0.5,"y":7.2},{"x":0.52,"y":-2.4},{"x":0.54,"y":5.4},{"x":0.55,"y":3.1},{"x":0.56,"y":-3.0},{"x":0.58,"y":1.7},{"x":0.6,"y":-4.1},{"x":0.62,"y":-0.6},{"x":0.63,"y":2.3},{"x":0.65,"y":-5.0},{"x":0.66,"y":4.8},{"x":0.68,"y":6.9},{"x":0.7,"y":-1.2},{"x":0.72,"y":0.9},{"x":0.74,"y":-2.8},{"x":0.75,"y":3.5},{"x":0.77,"y":-3.3},{"x":0.8,"y":2.0},{"x":0.82,"y":6.3},{"x":0.84,"y":-1.8},{"x":0.86,"y":5.8},{"x":0.88,"y":1.2},{"x":0.9,"y":-2.2},{"x":0.92,"y":0.2},{"x":0.95,"y":-4.3},{"x":0.97,"y":3.1},{"x":0.99,"y":-6.3},{"x":0.53,"y":0.3},{"x":0.57,"y":-1.6},{"x":0.61,"y":1.0},{"x":0.67,"y":-2.1},{"x":0.73,"y":2.7},{"x":0.79,"y":-0.3},{"x":0.85,"y":0.8},{"x":0.93,"y":2.4},{"x":0.6,"y":4.0},{"x":0.7,"y":5.0},{"x":0.64,"y":-0.8},
{"x":1.02,"y":6.8},{"x":1.05,"y":2.9},{"x":1.08,"y":-1.0},{"x":1.1,"y":4.0},{"x":1.12,"y":-2.7},{"x":1.15,"y":0.4},{"x":1.18,"y":7.5},{"x":1.2,"y":1.8},{"x":1.25,"y":-2.0},{"x":1.3,"y":3.3},{"x":1.35,"y":-0.6},{"x":1.4,"y":5.8},{"x":1.45,"y":1.3},{"x":1.5,"y":-1.7},{"x":1.55,"y":2.6},{"x":1.6,"y":-0.4},{"x":1.65,"y":3.8},{"x":1.7,"y":-2.3},{"x":1.75,"y":0.8},{"x":1.8,"y":2.4},{"x":1.85,"y":-1.3},{"x":1.9,"y":4.9},{"x":1.95,"y":1.6},{"x":2.0,"y":-0.9},{"x":2.1,"y":2.0},{"x":2.2,"y":-1.9},{"x":2.3,"y":0.5},{"x":2.4,"y":3.0},{"x":2.5,"y":-1.1},{"x":2.6,"y":1.7},{"x":2.7,"y":-0.3},{"x":2.8,"y":2.6},{"x":2.9,"y":0.9},{"x":1.3,"y":-2.8},{"x":1.12,"y":1.0},{"x":1.22,"y":-0.5},{"x":1.6,"y":1.1},{"x":2.0,"y":0.2},{"x":2.4,"y":1.2},{"x":1.4,"y":0.1},{"x":1.8,"y":-0.4},{"x":2.7,"y":3.6},
{"x":3.1,"y":1.6},{"x":3.2,"y":-0.6},{"x":3.4,"y":2.3},{"x":3.6,"y":0.4},{"x":3.8,"y":1.2},{"x":4.0,"y":-0.8},{"x":4.2,"y":2.7},{"x":4.4,"y":0.9},{"x":4.7,"y":-0.2},{"x":5.0,"y":5.3},{"x":5.2,"y":1.5},{"x":5.5,"y":0.3},{"x":5.8,"y":2.0},{"x":6.1,"y":-0.4},{"x":6.5,"y":1.0},{"x":6.8,"y":2.5},{"x":7.2,"y":0.5},{"x":7.6,"y":1.6},{"x":8.0,"y":-0.1},{"x":8.5,"y":1.1},{"x":9.0,"y":2.2},{"x":9.5,"y":0.3},{"x":4.6,"y":4.0},{"x":6.0,"y":7.2},{"x":3.5,"y":3.0},{"x":4.9,"y":1.7},{"x":7.0,"y":-0.3},{"x":8.8,"y":0.6},{"x":10.0,"y":3.6},{"x":10.2,"y":2.7},
{"x":11,"y":1.3},{"x":12,"y":0.4},{"x":13,"y":1.8},{"x":14,"y":0.9},{"x":15,"y":0.1},{"x":16,"y":1.5},{"x":18,"y":0.6},{"x":19,"y":2.2},{"x":20,"y":1.1},{"x":22,"y":0.3},{"x":24,"y":2.4},{"x":26,"y":1.2},{"x":28,"y":0.5},{"x":30,"y":1.6},{"x":33,"y":0.2},{"x":36,"y":1.0},{"x":40,"y":1.4},{"x":45,"y":0.3},{"x":48,"y":1.7},{"x":55,"y":0.8},{"x":60,"y":1.3},{"x":65,"y":0.2},{"x":70,"y":0.7},{"x":80,"y":0.4},{"x":90,"y":0.1},{"x":12.5,"y":2.8},{"x":17,"y":-0.2},{"x":25,"y":0.8},{"x":35,"y":1.9},{"x":42,"y":0.9},
{"x":0.35,"y":3.0},{"x":0.36,"y":-0.9},{"x":0.38,"y":-5.5},{"x":0.4,"y":2.2},{"x":0.41,"y":-2.3},{"x":0.43,"y":0.1},{"x":0.44,"y":4.6},{"x":0.46,"y":-1.0},{"x":0.48,"y":3.8},{"x":0.5,"y":-0.5},{"x":0.52,"y":1.2},{"x":0.55,"y":-4.0},{"x":0.58,"y":0.5},{"x":0.6,"y":2.8},{"x":0.62,"y":-2.8},{"x":0.65,"y":1.4},{"x":0.68,"y":-1.1},{"x":0.7,"y":3.2},{"x":0.72,"y":-3.6},{"x":0.75,"y":0.0},{"x":0.78,"y":1.9},{"x":0.8,"y":-2.0},{"x":0.83,"y":3.9},{"x":0.86,"y":-0.6},{"x":0.9,"y":2.7},{"x":0.93,"y":-1.4},{"x":0.96,"y":1.4},{"x":1.0,"y":-2.4},{"x":1.04,"y":0.8},{"x":1.08,"y":3.4},{"x":1.12,"y":-1.5},{"x":1.17,"y":2.1},{"x":1.22,"y":-0.1},{"x":1.27,"y":1.2},{"x":1.33,"y":-1.3},{"x":1.38,"y":2.9},{"x":1.44,"y":0.3},{"x":1.5,"y":1.9},{"x":1.57,"y":-0.8},{"x":1.63,"y":2.2},{"x":1.7,"y":0.3},{"x":1.78,"y":-1.6},{"x":1.86,"y":1.2},{"x":1.95,"y":3.1},{"x":2.05,"y":-1.3},{"x":2.15,"y":0.9},{"x":2.25,"y":2.5},{"x":2.35,"y":-0.6},{"x":2.5,"y":1.3},{"x":2.6,"y":-0.9},{"x":2.75,"y":2.0},{"x":2.9,"y":-0.1},{"x":3.05,"y":0.8},{"x":3.2,"y":2.0},{"x":3.35,"y":-0.3},{"x":3.5,"y":1.0},{"x":3.7,"y":2.1},{"x":3.9,"y":0.1},{"x":4.1,"y":1.5},{"x":4.3,"y":-0.4},{"x":4.5,"y":1.9},{"x":4.8,"y":0.6},{"x":5.1,"y":2.4},{"x":5.4,"y":-0.2},{"x":5.7,"y":1.2},{"x":6.0,"y":0.2},{"x":6.3,"y":1.9},{"x":6.6,"y":0.6},{"x":7.0,"y":1.4},{"x":7.4,"y":-0.1},{"x":7.8,"y":2.0},{"x":8.2,"y":0.8},{"x":8.7,"y":1.6},{"x":9.2,"y":0.1},{"x":9.8,"y":1.2},{"x":10.5,"y":0.6},{"x":11.5,"y":2.0},{"x":12.5,"y":0.9},{"x":13.5,"y":0.3},{"x":14.5,"y":1.7},{"x":15.5,"y":0.8},{"x":17,"y":1.9},{"x":18.5,"y":0.2},{"x":20,"y":2.4},{"x":21,"y":0.7},{"x":23,"y":1.5},{"x":25,"y":1.9},{"x":27,"y":0.9},{"x":29,"y":0.4},{"x":31,"y":1.2},{"x":34,"y":0.6},{"x":38,"y":1.8},{"x":44,"y":0.6},{"x":50,"y":1.1},{"x":58,"y":0.4},{"x":62,"y":1.6},{"x":75,"y":0.9},{"x":85,"y":1.2},{"x":95,"y":0.5}
],
"boxA": [
{"i":1,"x":0.013,"lo":-0.64,"q1":-0.07,"med":0.17,"q3":0.53,"hi":1.44},
{"i":2,"x":0.019,"lo":-0.72,"q1":-0.05,"med":0.2,"q3":0.53,"hi":1.30},
{"i":3,"x":0.028,"lo":-2.05,"q1":-0.29,"med":0.23,"q3":0.92,"hi":2.32},
{"i":4,"x":0.038,"lo":-1.95,"q1":-0.34,"med":0.31,"q3":0.79,"hi":2.36},
{"i":5,"x":0.048,"lo":-1.76,"q1":-0.03,"med":0.55,"q3":1.17,"hi":2.45},
{"i":6,"x":0.058,"lo":-2.76,"q1":-0.73,"med":0.29,"q3":0.91,"hi":3.03},
{"i":7,"x":0.071,"lo":-2.35,"q1":-0.30,"med":0.43,"q3":1.05,"hi":3.1},
{"i":8,"x":0.085,"lo":-1.71,"q1":0.11,"med":0.73,"q3":1.41,"hi":3.21},
{"i":9,"x":0.097,"lo":-1.62,"q1":0.11,"med":0.87,"q3":1.44,"hi":3.44},
{"i":10,"x":0.112,"lo":-1.89,"q1":0.0,"med":0.76,"q3":1.32,"hi":2.48},
{"i":11,"x":0.130,"lo":-0.79,"q1":0.27,"med":0.76,"q3":1.28,"hi":2.77},
{"i":12,"x":0.156,"lo":-1.62,"q1":0.27,"med":0.97,"q3":1.54,"hi":3.28},
{"i":13,"x":0.19,"lo":-1.35,"q1":0.36,"med":1.10,"q3":1.84,"hi":4.0},
{"i":14,"x":0.236,"lo":-1.08,"q1":0.41,"med":1.07,"q3":1.70,"hi":3.6},
{"i":15,"x":0.503,"lo":-0.86,"q1":0.59,"med":1.16,"q3":1.89,"hi":3.44}
],
"boxB": [
{"i":1,"x":-15.62,"lo":-0.59,"q1":0.01,"med":0.2,"q3":0.41,"hi":0.96},
{"i":2,"x":-8.2,"lo":-0.72,"q1":-0.03,"med":0.27,"q3":0.63,"hi":1.49},
{"i":3,"x":-5.14,"lo":-1.71,"q1":0.13,"med":0.72,"q3":1.38,"hi":3.22},
{"i":4,"x":-3.78,"lo":-2.68,"q1":-0.37,"med":0.56,"q3":1.23,"hi":3.57},
{"i":5,"x":-2.87,"lo":-1.65,"q1":-0.06,"med":0.38,"q3":1.07,"hi":2.69},
{"i":6,"x":-2.06,"lo":-1.59,"q1":-0.01,"med":0.52,"q3":1.14,"hi":2.65},
{"i":7,"x":-1.46,"lo":-2.35,"q1":-0.09,"med":0.70,"q3":1.56,"hi":3.71},
{"i":8,"x":-1.02,"lo":-2.81,"q1":-0.35,"med":0.59,"q3":1.29,"hi":3.19},
{"i":9,"x":-0.55,"lo":-2.52,"q1":-0.17,"med":0.76,"q3":1.46,"hi":3.87},
{"i":10,"x":-0.02,"lo":-2.05,"q1":-0.15,"med":0.42,"q3":1.17,"hi":3.05},
{"i":11,"x":0.68,"lo":-1.44,"q1":-0.14,"med":0.43,"q3":1.04,"hi":2.81},
{"i":12,"x":1.43,"lo":-2.02,"q1":-0.12,"med":0.51,"q3":1.30,"hi":3.32},
{"i":13,"x":2.15,"lo":-1.34,"q1":0.02,"med":0.66,"q3":1.33,"hi":3.28},
{"i":14,"x":2.87,"lo":-0.59,"q1":0.37,"med":0.80,"q3":1.28,"hi":2.62},
{"i":15,"x":5.28,"lo":-1.73,"q1":0.16,"med":0.88,"q3":1.49,"hi":3.07}
],
"boxC": [
{"i":1,"x":-0.70,"lo":-1.76,"q1":0.0,"med":0.58,"q3":1.34,"hi":3.28},
{"i":2,"x":0.12,"lo":-1.33,"q1":-0.01,"med":0.64,"q3":1.50,"hi":3.70},
{"i":3,"x":0.243,"lo":-1.72,"q1":-0.01,"med":0.79,"q3":1.64,"hi":3.49},
{"i":4,"x":0.348,"lo":-1.29,"q1":-0.02,"med":0.69,"q3":1.30,"hi":3.06},
{"i":5,"x":0.452,"lo":-2.46,"q1":-0.10,"med":0.76,"q3":1.52,"hi":3.35},
{"i":6,"x":0.551,"lo":-1.41,"q1":0.04,"med":0.51,"q3":1.10,"hi":2.02},
{"i":7,"x":0.643,"lo":-1.59,"q1":-0.04,"med":0.49,"q3":1.05,"hi":2.18},
{"i":8,"x":0.735,"lo":-1.88,"q1":-0.04,"med":0.62,"q3":1.31,"hi":3.20},
{"i":9,"x":0.834,"lo":-2.44,"q1":-0.43,"med":0.37,"q3":1.05,"hi":3.11},
{"i":10,"x":0.945,"lo":-1.73,"q1":0.06,"med":0.37,"q3":0.99,"hi":2.41},
{"i":11,"x":1.086,"lo":-1.76,"q1":-0.05,"med":0.45,"q3":1.13,"hi":2.84},
{"i":12,"x":1.289,"lo":-1.45,"q1":0.16,"med":0.65,"q3":1.40,"hi":3.22},
{"i":13,"x":1.572,"lo":-1.49,"q1":-0.04,"med":0.25,"q3":0.97,"hi":2.49},
{"i":14,"x":2.009,"lo":-1.16,"q1":-0.01,"med":0.30,"q3":0.97,"hi":2.38},
{"i":15,"x":5.997,"lo":-1.27,"q1":-0.01,"med":0.30,"q3":0.92,"hi":2.15}
],
"boxD": [
{"i":1,"x":0.379,"lo":-6.66,"q1":-1.83,"med":0.22,"q3":1.86,"hi":7.44},
{"i":2,"x":0.690,"lo":-3.72,"q1":-0.70,"med":0.46,"q3":1.62,"hi":4.74},
{"i":3,"x":0.973,"lo":-2.53,"q1":-0.35,"med":0.62,"q3":1.48,"hi":4.04},
{"i":4,"x":1.26,"lo":-2.13,"q1":-0.11,"med":0.51,"q3":1.32,"hi":3.42},
{"i":5,"x":1.64,"lo":-2.02,"q1":-0.11,"med":0.46,"q3":1.27,"hi":2.78},
{"i":6,"x":2.09,"lo":-1.70,"q1":-0.11,"med":0.62,"q3":1.19,"hi":2.64},
{"i":7,"x":2.57,"lo":-1.54,"q1":0.0,"med":0.54,"q3":1.16,"hi":2.37},
{"i":8,"x":3.21,"lo":-0.59,"q1":0.35,"med":0.81,"q3":1.16,"hi":2.24},
{"i":9,"x":3.95,"lo":-0.57,"q1":0.22,"med":0.65,"q3":1.16,"hi":2.53},
{"i":10,"x":5.05,"lo":-0.73,"q1":0.05,"med":0.49,"q3":0.92,"hi":2.16},
{"i":11,"x":6.85,"lo":-0.30,"q1":0.22,"med":0.70,"q3":1.13,"hi":2.45},
{"i":12,"x":10.4,"lo":-0.05,"q1":0.16,"med":0.59,"q3":1.05,"hi":2.08},
{"i":13,"x":52.6,"lo":0.0,"q1":0.16,"med":0.40,"q3":1.16,"hi":2.64}
],
"fitA": [
{"x":0,"o":-0.06,"olo":-0.26,"ohi":0.14,"r":-0.04,"rlo":-0.22,"rhi":0.14},
{"x":0.01,"o":0.027,"olo":-0.133,"ohi":0.187,"r":0.072,"rlo":-0.068,"rhi":0.212},
{"x":0.02,"o":0.108,"olo":-0.012,"ohi":0.228,"r":0.174,"rlo":0.074,"rhi":0.274},
{"x":0.04,"o":0.258,"olo":0.168,"ohi":0.348,"r":0.351,"rlo":0.281,"rhi":0.421},
{"x":0.06,"o":0.391,"olo":0.311,"ohi":0.471,"r":0.497,"rlo":0.437,"rhi":0.557},
{"x":0.08,"o":0.509,"olo":0.429,"ohi":0.589,"r":0.62,"rlo":0.56,"rhi":0.68},
{"x":0.1,"o":0.614,"olo":0.534,"ohi":0.694,"r":0.72,"rlo":0.66,"rhi":0.78},
{"x":0.13,"o":0.75,"olo":0.65,"ohi":0.85,"r":0.84,"rlo":0.775,"rhi":0.905},
{"x":0.16,"o":0.864,"olo":0.744,"ohi":0.984,"r":0.931,"rlo":0.861,"rhi":1.001},
{"x":0.2,"o":0.987,"olo":0.817,"ohi":1.157,"r":1.018,"rlo":0.933,"rhi":1.103},
{"x":0.25,"o":1.106,"olo":0.876,"ohi":1.336,"r":1.09,"rlo":0.99,"rhi":1.19},
{"x":0.3,"o":1.193,"olo":0.913,"ohi":1.473,"r":1.135,"rlo":1.02,"rhi":1.25},
{"x":0.4,"o":1.308,"olo":0.958,"ohi":1.658,"r":1.18,"rlo":1.045,"rhi":1.315},
{"x":0.5,"o":1.371,"olo":0.981,"ohi":1.761,"r":1.198,"rlo":1.048,"rhi":1.348},
{"x":0.6,"o":1.406,"olo":0.986,"ohi":1.826,"r":1.205,"rlo":1.045,"rhi":1.365},
{"x":0.7,"o":1.426,"olo":0.986,"ohi":1.866,"r":1.209,"rlo":1.044,"rhi":1.374}
],
"refs": [{"v":0},{"v":1}]
},
"concat": [
{
 "width": 465, "height": 247,
 "title": {"text": "(a) Cloud water content (nbox = 129.0)"},
 "layer": [
  {"data": {"name": "ptsA"}, "mark": {"type": "circle", "size": 40, "color": "#c0c0c0", "opacity": 0.55, "clip": true},
   "encoding": {
    "x": {"field": "x", "type": "quantitative", "title": "CWC (gm⁻³)", "scale": {"domain": [0, 0.7], "nice": false, "zero": false}, "axis": {"values": [0,0.1,0.2,0.3,0.4,0.5,0.6,0.7], "format": ".1f"}},
    "y": {"field": "y", "type": "quantitative", "title": "FeBC (-)", "scale": {"domain": [-4, 4], "nice": false}, "axis": {"values": [-4,-2,0,2,4]}}}},
  {"data": {"name": "fitA"}, "mark": {"type": "area", "color": "#ffa500", "opacity": 0.3, "clip": true},
   "encoding": {"x": {"field": "x", "type": "quantitative", "title": "CWC (gm⁻³)"}, "y": {"field": "olo", "type": "quantitative", "title": "FeBC (-)"}, "y2": {"field": "ohi"}}},
  {"data": {"name": "fitA"}, "mark": {"type": "area", "color": "#ff2a00", "opacity": 0.35, "clip": true},
   "encoding": {"x": {"field": "x", "type": "quantitative", "title": "CWC (gm⁻³)"}, "y": {"field": "rlo", "type": "quantitative", "title": "FeBC (-)"}, "y2": {"field": "rhi"}}},
  {"data": {"name": "refs"}, "mark": {"type": "rule", "color": "#808080", "strokeWidth": 2.3, "strokeDash": [10, 5]},
   "encoding": {"y": {"field": "v", "type": "quantitative", "title": "FeBC (-)"}}},
  {"data": {"name": "fitA"}, "transform": [{"fold": ["o", "r"], "as": ["fit", "v"]}],
   "mark": {"type": "line", "strokeWidth": 3, "clip": true},
   "encoding": {"x": {"field": "x", "type": "quantitative", "title": "CWC (gm⁻³)"}, "y": {"field": "v", "type": "quantitative", "title": "FeBC (-)"},
    "color": {"field": "fit", "type": "nominal", "scale": {"domain": ["o", "r"], "range": ["#ffa500", "#ff0000"]},
     "legend": {"title": null, "orient": "none", "legendX": 36, "legendY": 195, "labelExpr": "datum.value == 'o' ? 'FeBC=(1.45+/-0.23)+(-1.51+/-0.20)*exp(-5.91+/-1.92*CWC)' : 'FeBC=(1.21+/-0.10)+(-1.25+/-0.10)*exp(-9.37+/-2.03*CWC)'", "labelFontSize": 14.5, "labelColor": "#262626", "labelLimit": 600, "symbolType": "stroke", "symbolSize": 900, "symbolStrokeWidth": 3, "clipHeight": 16, "rowPadding": 7, "labelOffset": 11, "padding": 0}},
    "strokeDash": {"field": "fit", "type": "nominal", "scale": {"domain": ["o", "r"], "range": [[8, 4], [1, 0]]},
     "legend": {"title": null, "orient": "none", "legendX": 36, "legendY": 195, "labelExpr": "datum.value == 'o' ? 'FeBC=(1.45+/-0.23)+(-1.51+/-0.20)*exp(-5.91+/-1.92*CWC)' : 'FeBC=(1.21+/-0.10)+(-1.25+/-0.10)*exp(-9.37+/-2.03*CWC)'", "labelFontSize": 14.5, "labelColor": "#262626", "labelLimit": 600, "symbolType": "stroke", "symbolSize": 900, "symbolStrokeWidth": 3, "clipHeight": 16, "rowPadding": 7, "labelOffset": 11, "padding": 0}}}},
  {"data": {"name": "boxA"}, "mark": {"type": "rule", "color": "#3a3a3a", "strokeWidth": 1.4},
   "encoding": {"x": {"field": "x", "type": "quantitative", "title": "CWC (gm⁻³)"}, "y": {"field": "lo", "type": "quantitative", "title": "FeBC (-)"}, "y2": {"field": "hi"}}},
  {"data": {"name": "boxA"}, "mark": {"type": "tick", "orient": "horizontal", "color": "#111111", "size": 5, "thickness": 1.5},
   "encoding": {"x": {"field": "x", "type": "quantitative", "title": "CWC (gm⁻³)"}, "y": {"field": "lo", "type": "quantitative", "title": "FeBC (-)"}}},
  {"data": {"name": "boxA"}, "mark": {"type": "tick", "orient": "horizontal", "color": "#111111", "size": 5, "thickness": 1.5},
   "encoding": {"x": {"field": "x", "type": "quantitative", "title": "CWC (gm⁻³)"}, "y": {"field": "hi", "type": "quantitative", "title": "FeBC (-)"}}},
  {"data": {"name": "boxA"}, "mark": {"type": "bar", "size": 7, "stroke": "#111111", "strokeWidth": 1.2},
   "encoding": {"x": {"field": "x", "type": "quantitative", "title": "CWC (gm⁻³)"}, "y": {"field": "q1", "type": "quantitative", "title": "FeBC (-)"}, "y2": {"field": "q3"},
    "fill": {"field": "i", "type": "ordinal", "legend": null, "scale": {"range": ["#ece9f4","#e3e2f0","#d6d6ea","#d0d1e6","#b7c3df","#a9bcdb","#a6bddb","#7eabd3","#74a9cf","#6aa3cc","#3d93c3","#2c87be","#0d6eaf","#0a6aab","#0b5f9c"]}}}},
  {"data": {"name": "boxA"}, "mark": {"type": "tick", "orient": "horizontal", "color": "#111111", "size": 7, "thickness": 1.5},
   "encoding": {"x": {"field": "x", "type": "quantitative", "title": "CWC (gm⁻³)"}, "y": {"field": "med", "type": "quantitative", "title": "FeBC (-)"}}}
 ]
},
{
 "width": 465, "height": 247,
 "title": {"text": "(b) Ambient temperature (nbox = 141.0)"},
 "layer": [
  {"data": {"name": "ptsB"}, "mark": {"type": "circle", "size": 40, "color": "#c0c0c0", "opacity": 0.55, "clip": true},
   "encoding": {
    "x": {"field": "x", "type": "quantitative", "title": "Ambient temperature ( ° C)", "scale": {"domain": [-20, 7], "nice": false, "zero": false}, "axis": {"values": [-20,-15,-10,-5,0,5], "labelExpr": "replace(datum.label, '−', '-')"}},
    "y": {"field": "y", "type": "quantitative", "title": "FeBC (-)", "scale": {"domain": [-4, 4], "nice": false}, "axis": {"values": [-4,-2,0,2,4]}}}},
  {"data": {"name": "refs"}, "mark": {"type": "rule", "color": "#808080", "strokeWidth": 2.3, "strokeDash": [10, 5]},
   "encoding": {"y": {"field": "v", "type": "quantitative", "title": "FeBC (-)"}}},
  {"data": {"name": "boxB"}, "mark": {"type": "rule", "color": "#3a3a3a", "strokeWidth": 1.4},
   "encoding": {"x": {"field": "x", "type": "quantitative", "title": "Ambient temperature ( ° C)"}, "y": {"field": "lo", "type": "quantitative", "title": "FeBC (-)"}, "y2": {"field": "hi"}}},
  {"data": {"name": "boxB"}, "mark": {"type": "tick", "orient": "horizontal", "color": "#111111", "size": 5, "thickness": 1.5},
   "encoding": {"x": {"field": "x", "type": "quantitative", "title": "Ambient temperature ( ° C)"}, "y": {"field": "lo", "type": "quantitative", "title": "FeBC (-)"}}},
  {"data": {"name": "boxB"}, "mark": {"type": "tick", "orient": "horizontal", "color": "#111111", "size": 5, "thickness": 1.5},
   "encoding": {"x": {"field": "x", "type": "quantitative", "title": "Ambient temperature ( ° C)"}, "y": {"field": "hi", "type": "quantitative", "title": "FeBC (-)"}}},
  {"data": {"name": "boxB"}, "mark": {"type": "bar", "size": 8, "stroke": "#111111", "strokeWidth": 1.2},
   "encoding": {"x": {"field": "x", "type": "quantitative", "title": "Ambient temperature ( ° C)"}, "y": {"field": "q1", "type": "quantitative", "title": "FeBC (-)"}, "y2": {"field": "q3"},
    "fill": {"field": "i", "type": "ordinal", "legend": null, "scale": {"range": ["#3d50c3","#4a63d3","#6282ea","#7396f5","#8db0fe","#9ebeff","#aac7fd","#bfd3f6","#dcdddd","#ecd3c5","#f4c4aa","#f6b597","#f49a7b","#ee8468","#e16852"]}}}},
  {"data": {"name": "boxB"}, "mark": {"type": "tick", "orient": "horizontal", "color": "#111111", "size": 8, "thickness": 1.5},
   "encoding": {"x": {"field": "x", "type": "quantitative", "title": "Ambient temperature ( ° C)"}, "y": {"field": "med", "type": "quantitative", "title": "FeBC (-)"}}}
 ]
},
{
 "width": 465, "height": 247,
 "title": {"text": "(c) Updraft (nbox = 110.0)"},
 "layer": [
  {"data": {"name": "ptsC"}, "mark": {"type": "circle", "size": 40, "color": "#c0c0c0", "opacity": 0.55, "clip": true},
   "encoding": {
    "x": {"field": "x", "type": "quantitative", "title": "Updraft (ms⁻¹)", "scale": {"domain": [-1, 7], "nice": false, "zero": false}, "axis": {"values": [-1,0,1,2,3,4,5,6,7], "format": "d", "labelExpr": "replace(datum.label, '−', '-')"}},
    "y": {"field": "y", "type": "quantitative", "title": "FeBC (-)", "scale": {"domain": [-4, 4], "nice": false}, "axis": {"values": [-4,-2,0,2,4]}}}},
  {"data": {"name": "refs"}, "mark": {"type": "rule", "color": "#808080", "strokeWidth": 2.3, "strokeDash": [10, 5]},
   "encoding": {"y": {"field": "v", "type": "quantitative", "title": "FeBC (-)"}}},
  {"data": {"name": "boxC"}, "mark": {"type": "rule", "color": "#3a3a3a", "strokeWidth": 1.4},
   "encoding": {"x": {"field": "x", "type": "quantitative", "title": "Updraft (ms⁻¹)"}, "y": {"field": "lo", "type": "quantitative", "title": "FeBC (-)"}, "y2": {"field": "hi"}}},
  {"data": {"name": "boxC"}, "mark": {"type": "tick", "orient": "horizontal", "color": "#111111", "size": 5, "thickness": 1.5},
   "encoding": {"x": {"field": "x", "type": "quantitative", "title": "Updraft (ms⁻¹)"}, "y": {"field": "lo", "type": "quantitative", "title": "FeBC (-)"}}},
  {"data": {"name": "boxC"}, "mark": {"type": "tick", "orient": "horizontal", "color": "#111111", "size": 5, "thickness": 1.5},
   "encoding": {"x": {"field": "x", "type": "quantitative", "title": "Updraft (ms⁻¹)"}, "y": {"field": "hi", "type": "quantitative", "title": "FeBC (-)"}}},
  {"data": {"name": "boxC"}, "mark": {"type": "bar", "size": 7, "stroke": "#111111", "strokeWidth": 1.2},
   "encoding": {"x": {"field": "x", "type": "quantitative", "title": "Updraft (ms⁻¹)"}, "y": {"field": "q1", "type": "quantitative", "title": "FeBC (-)"}, "y2": {"field": "q3"},
    "fill": {"field": "i", "type": "ordinal", "legend": null, "scale": {"range": ["#edf8e4","#dbf1d5","#d3eecd","#cdebc6","#c2e6c0","#b0dfbb","#96d6bb","#7ecdc0","#63bfc8","#55b7cc","#46a8cf","#3398c8","#1f80bb","#1a78b5","#1672b0"]}}}},
  {"data": {"name": "boxC"}, "mark": {"type": "tick", "orient": "horizontal", "color": "#111111", "size": 7, "thickness": 1.5},
   "encoding": {"x": {"field": "x", "type": "quantitative", "title": "Updraft (ms⁻¹)"}, "y": {"field": "med", "type": "quantitative", "title": "FeBC (-)"}}}
 ]
},
{
 "width": 465, "height": 247,
 "title": {"text": "(d) eBC conc. (nbox = 141.0)"},
 "resolve": {"axis": {"x": "independent"}},
 "layer": [
  {"data": {"name": "ptsD"}, "mark": {"type": "circle", "size": 40, "color": "#c0c0c0", "opacity": 0.55, "clip": true},
   "encoding": {
    "x": {"field": "x", "type": "quantitative", "scale": {"type": "log", "domain": [0.1, 100], "nice": false}, "axis": {"orient": "bottom", "title": "eBC (ngm⁻³)", "values": [0.1, 1, 10, 100], "labelExpr": "datum.value == 0.1 ? '10⁻¹' : datum.value == 1 ? '10⁰' : datum.value == 10 ? '10¹' : '10²'"}},
    "y": {"field": "y", "type": "quantitative", "title": "FeBC (-)", "scale": {"domain": [-10, 10], "nice": false}, "axis": {"values": [-10,-5,0,5,10]}}}},
  {"data": {"name": "refs"}, "mark": {"type": "rule", "color": "#808080", "strokeWidth": 2.3, "strokeDash": [10, 5]},
   "encoding": {"y": {"field": "v", "type": "quantitative", "title": "FeBC (-)"}}},
  {"data": {"name": "boxD"}, "mark": {"type": "rule", "color": "#3a3a3a", "strokeWidth": 1.4},
   "encoding": {"x": {"field": "x", "type": "quantitative", "axis": {"orient": "bottom", "title": null, "labels": false, "domain": false, "tickSize": 6, "values": [0.2,0.3,0.4,0.5,0.6,0.7,0.8,0.9,2,3,4,5,6,7,8,9,20,30,40,50,60,70,80,90]}}, "y": {"field": "lo", "type": "quantitative", "title": "FeBC (-)"}, "y2": {"field": "hi"}}},
  {"data": {"name": "boxD"}, "mark": {"type": "tick", "orient": "horizontal", "color": "#111111", "size": 5, "thickness": 1.5},
   "encoding": {"x": {"field": "x", "type": "quantitative", "axis": null}, "y": {"field": "lo", "type": "quantitative", "title": "FeBC (-)"}}},
  {"data": {"name": "boxD"}, "mark": {"type": "tick", "orient": "horizontal", "color": "#111111", "size": 5, "thickness": 1.5},
   "encoding": {"x": {"field": "x", "type": "quantitative", "axis": null}, "y": {"field": "hi", "type": "quantitative", "title": "FeBC (-)"}}},
  {"data": {"name": "boxD"}, "mark": {"type": "bar", "size": 10, "stroke": "#111111", "strokeWidth": 1.2},
   "encoding": {"x": {"field": "x", "type": "quantitative", "axis": null}, "y": {"field": "q1", "type": "quantitative", "title": "FeBC (-)"}, "y2": {"field": "q3"},
    "fill": {"field": "i", "type": "ordinal", "legend": null, "scale": {"range": ["#f2f03a","#f8ea30","#fbe428","#ffda1a","#ffd412","#ffcd0b","#ffc605","#ffbe00","#ffb600","#ffae00","#ffa600","#ff9e00","#fd9000"]}}}},
  {"data": {"name": "boxD"}, "mark": {"type": "tick", "orient": "horizontal", "color": "#111111", "size": 10, "thickness": 1.5},
   "encoding": {"x": {"field": "x", "type": "quantitative", "axis": null}, "y": {"field": "med", "type": "quantitative", "title": "FeBC (-)"}}}
 ]
}
]
}
